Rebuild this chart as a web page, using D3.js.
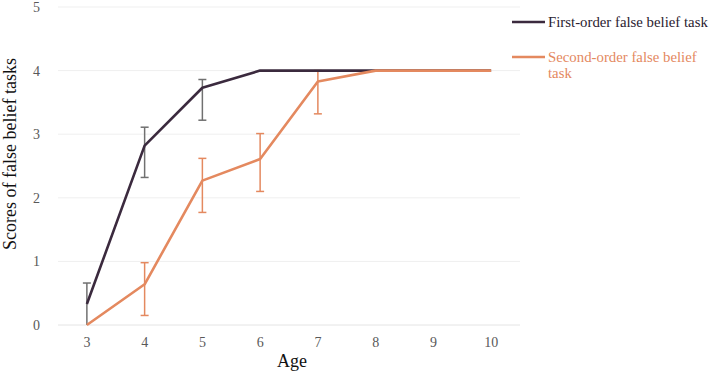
<!DOCTYPE html>
<html>
<head>
<meta charset="utf-8">
<script src="https://cdn.jsdelivr.net/npm/d3@7"></script>
<style>
body { margin: 0; background: #fff; }
text { font-family: "Liberation Serif", "Times New Roman", serif; }
</style>
</head>
<body>
<svg id="chart" width="709" height="373"></svg>
<script>
// ---- data ----
const ages = ["3", "4", "5", "6", "7", "8", "9", "10"];
const yTicks = [0, 1, 2, 3, 4, 5];

const firstOrder = [0.33, 2.82, 3.73, 4, 4, 4, 4, 4];
const firstUpper = [0.66, 3.11, 3.86, null, null, null, null, null];
const firstLower = [0, 2.32, 3.22, null, null, null, null, null];

const secondOrder = [0, 0.64, 2.27, 2.61, 3.83, 4, 4, 4];
const secondUpper = [null, 0.98, 2.62, 3.01, 4.0, null, null, null];
const secondLower = [null, 0.15, 1.77, 2.1, 3.32, null, null, null];

const lineColors = ["#3b2a3e", "#e4895f"];
const barColors = ["#707070", "#e4895f"];

// ---- layout ----
const svg = d3.select("#chart");
const margin = { left: 58, right: 189, top: 7, bottom: 48 };
const width = 709, height = 373;

const x = d3.scalePoint()
    .domain(ages)
    .range([margin.left, width - margin.right])
    .padding(0.5);

const y = d3.scaleLinear()
    .domain([0, 5])
    .range([height - margin.bottom, margin.top]);

// gridlines
svg.append("g")
    .selectAll("line")
    .data(yTicks)
    .enter()
    .append("line")
    .attr("x1", margin.left)
    .attr("x2", width - margin.right)
    .attr("y1", d => y(d))
    .attr("y2", d => y(d))
    .attr("stroke", d => d === 0 ? "#e4e4e4" : "#efefef")
    .attr("stroke-width", 1);

// y tick labels
svg.append("g")
    .selectAll("text")
    .data(yTicks)
    .enter()
    .append("text")
    .attr("x", 40)
    .attr("y", d => y(d) + 5)
    .attr("text-anchor", "end")
    .attr("fill", "#595959")
    .attr("font-size", 14)
    .text(d => d);

// x tick labels
svg.append("g")
    .selectAll("text")
    .data(ages)
    .enter()
    .append("text")
    .attr("x", d => x(d))
    .attr("y", height - margin.bottom + 22)
    .attr("text-anchor", "middle")
    .attr("fill", "#595959")
    .attr("font-size", 14)
    .text(d => d);

// axis titles
svg.append("text")
    .attr("x", 292)
    .attr("y", 367)
    .attr("text-anchor", "middle")
    .attr("font-size", 18)
    .attr("fill", "#111")
    .text("Age");

svg.append("text")
    .attr("transform", "translate(16,154) rotate(-90)")
    .attr("text-anchor", "middle")
    .attr("font-size", 18)
    .attr("fill", "#111")
    .text("Scores of false belief tasks");

// error bars
function drawErrors(upper, lower, color) {
    const rows = ages.map((a, i) => ({ a, hi: upper[i], lo: lower[i] }))
        .filter(d => d.hi !== null);
    const g = svg.append("g")
        .attr("stroke", color)
        .attr("stroke-width", 1.5)
        .attr("fill", "none");
    g.selectAll(".v").data(rows).enter().append("line")
        .attr("x1", d => x(d.a)).attr("x2", d => x(d.a))
        .attr("y1", d => y(d.hi)).attr("y2", d => y(d.lo));
    g.selectAll(".t").data(rows).enter().append("line")
        .attr("x1", d => x(d.a) - 4).attr("x2", d => x(d.a) + 4)
        .attr("y1", d => y(d.hi)).attr("y2", d => y(d.hi));
    g.selectAll(".b").data(rows.filter(d => d.lo > 0)).enter().append("line")
        .attr("x1", d => x(d.a) - 4).attr("x2", d => x(d.a) + 4)
        .attr("y1", d => y(d.lo)).attr("y2", d => y(d.lo));
}

drawErrors(firstUpper, firstLower, barColors[0]);
drawErrors(secondUpper, secondLower, barColors[1]);

// lines
const line = d3.line()
    .x((d, i) => x(ages[i]))
    .y(d => y(d));

[firstOrder, secondOrder].forEach((vals, k) => {
    svg.append("path")
        .datum(vals)
        .attr("d", line)
        .attr("fill", "none")
        .attr("stroke", lineColors[k])
        .attr("stroke-width", 2.6)
        .attr("stroke-linejoin", "round");
});

// legend
const legend = svg.append("g");
const legendRows = [
    { y: 22, lines: ["First-order false belief task"] },
    { y: 57, lines: ["Second-order false belief", "task"] }
];
legendRows.forEach((r, k) => {
    legend.append("line")
        .attr("x1", 512).attr("x2", 545)
        .attr("y1", r.y).attr("y2", r.y)
        .attr("stroke", lineColors[k])
        .attr("stroke-width", 2.6);
    const t = legend.append("text")
        .attr("x", 548)
        .attr("y", r.y + 5)
        .attr("font-size", 14.8)
        .attr("fill", k === 0 ? "#2b2230" : lineColors[1]);
    r.lines.forEach((s, j) => {
        t.append("tspan").attr("x", 548).attr("dy", j === 0 ? 0 : 16).text(s);
    });
});
</script>
</body>
</html>
